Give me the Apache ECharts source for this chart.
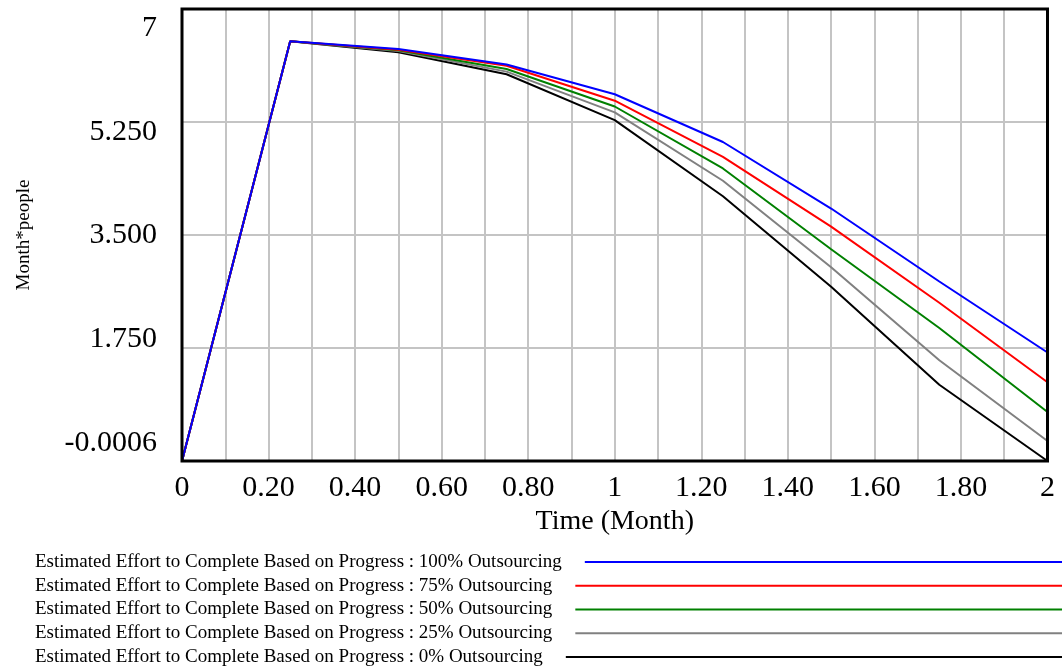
<!DOCTYPE html>
<html>
<head>
<meta charset="utf-8">
<script src="https://cdn.jsdelivr.net/npm/echarts@6/dist/echarts.min.js"></script>
<style>html,body{margin:0;padding:0;background:#fff;}#c{width:1062px;height:669px;}</style>
</head>
<body>
<div id="c"></div>
<script>
var time = [0, 0.25, 0.5, 0.75, 1, 1.25, 1.5, 1.75, 2];
var s100 = [0, 6.50, 6.38, 6.14, 5.68, 4.94, 3.91, 2.78, 1.68];
var s75  = [0, 6.50, 6.37, 6.12, 5.58, 4.71, 3.63, 2.45, 1.22];
var s50  = [0, 6.50, 6.36, 6.07, 5.49, 4.53, 3.28, 2.06, 0.76];
var s25  = [0, 6.50, 6.35, 6.03, 5.40, 4.34, 3.00, 1.56, 0.31];
var s0   = [0, 6.50, 6.33, 5.99, 5.28, 4.10, 2.70, 1.18, 0];
var seriesNames = [
  'Estimated Effort to Complete Based on Progress : 100% Outsourcing',
  'Estimated Effort to Complete Based on Progress : 75% Outsourcing',
  'Estimated Effort to Complete Based on Progress : 50% Outsourcing',
  'Estimated Effort to Complete Based on Progress : 25% Outsourcing',
  'Estimated Effort to Complete Based on Progress : 0% Outsourcing'
];
var seriesValues = [s100, s75, s50, s25, s0];
var seriesColors = ['#0000ff', '#ff0000', '#008000', '#808080', '#000000'];
var xTickLabels = ['0', '0.20', '0.40', '0.60', '0.80', '1', '1.20', '1.40', '1.60', '1.80', '2'];
var yTickLabels = ['-0.0006', '1.750', '3.500', '5.250', '7'];
var xTitle = 'Time (Month)';
var yTitle = 'Month*people';

var FONT = "'Liberation Serif', 'Times New Roman', serif";

var series = seriesNames.map(function (name, i) {
  return {
    name: name,
    type: 'line',
    symbol: 'none',
    z: 10 - i,
    lineStyle: { color: seriesColors[i], width: 2 },
    itemStyle: { color: seriesColors[i] },
    data: time.map(function (t, j) { return [t, seriesValues[i][j]]; })
  };
});

var legends = seriesNames.map(function (name, i) {
  return {
    orient: 'horizontal',
    left: 35,
    top: 552 + i * 23.75,
    padding: 0,
    align: 'right',
    itemWidth: 520,
    itemHeight: 20,
    data: [name],
    itemStyle: { color: 'transparent', borderWidth: 0 },
    lineStyle: { width: 2 },
    textStyle: { fontFamily: FONT, fontSize: 19, color: '#000', lineHeight: 20, padding: [0, 18, 0, 0] }
  };
});

var chart = echarts.init(document.getElementById('c'), null, { renderer: 'canvas' });
chart.setOption({
  animation: false,
  backgroundColor: '#ffffff',
  grid: {
    left: 182, top: 9, right: 14.5, bottom: 208,
    show: true, borderColor: '#000', borderWidth: 3, backgroundColor: 'transparent', z: 20
  },
  legend: legends,
  xAxis: {
    type: 'value',
    min: 0, max: 2, interval: 0.1,
    name: xTitle,
    nameLocation: 'middle',
    nameGap: 47,
    nameTextStyle: { fontFamily: FONT, fontSize: 28, color: '#000' },
    axisLine: { show: false },
    axisTick: { show: false },
    splitLine: { show: true, lineStyle: { color: '#c4c4c4', width: 2 } },
    axisLabel: {
      fontFamily: FONT, fontSize: 30, color: '#000', margin: 12,
      formatter: function (v) {
        var k = Math.round(v * 10);
        if (k % 2 !== 0) return '';
        return xTickLabels[k / 2];
      }
    }
  },
  yAxis: [{
    type: 'value',
    min: 0, max: 7, interval: 1.75,
    name: yTitle,
    nameLocation: 'middle',
    nameGap: 148,
    nameTextStyle: { fontFamily: FONT, fontSize: 19, color: '#000' },
    axisLine: { show: false },
    axisTick: { show: false },
    axisLabel: { show: false },
    splitLine: { show: true, lineStyle: { color: '#c4c4c4', width: 2 } }
  }, {
    type: 'value',
    position: 'left',
    min: -0.1735, max: 4.1831,
    axisLine: { show: false },
    axisTick: { show: false },
    splitLine: { show: false },
    axisLabel: {
      fontFamily: FONT, fontSize: 30, color: '#000', margin: 25,
      customValues: [0, 1, 2, 3, 4],
      formatter: function (v) {
        var k = Math.round(v);
        return yTickLabels[k] !== undefined ? yTickLabels[k] : '';
      }
    }
  }],
  series: series
});
</script>
</body>
</html>
